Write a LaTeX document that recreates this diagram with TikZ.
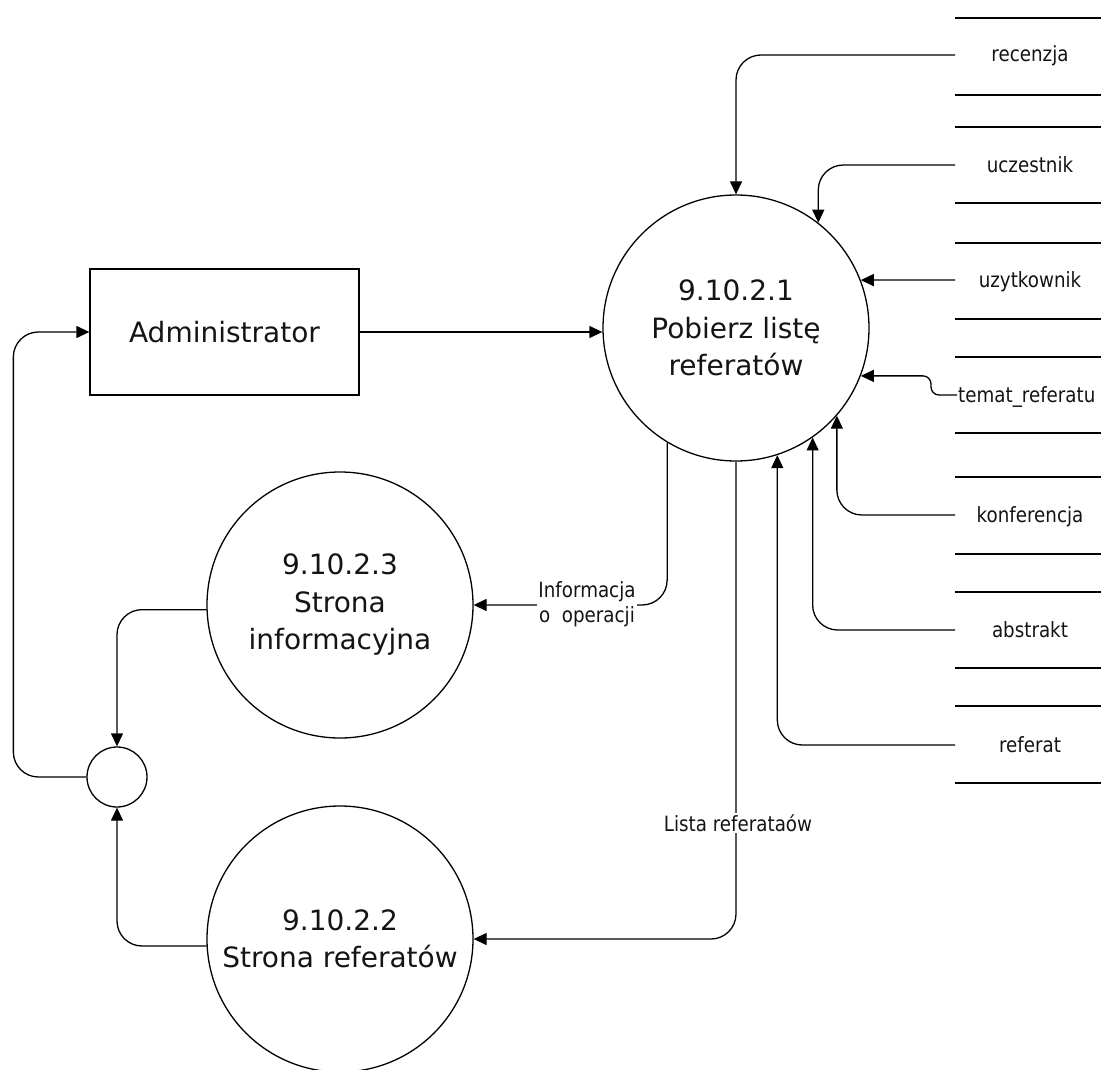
\documentclass[tikz,border=0pt]{standalone}
\usepackage{fontspec}
\setmainfont{DejaVu Sans}
\newfontfamily\smallf[FakeStretch=0.87]{DejaVu Sans}
\usetikzlibrary{arrows.meta}
\begin{document}
\begin{tikzpicture}[x=1pt,y=-1pt,
  every node/.style={text=black!92},
  proc/.style={draw=black, circle, line width=1.3pt, minimum size=266pt, inner sep=0pt, align=center, font=\fontsize{28}{37.5}\selectfont},
  extent/.style={draw=black, rectangle, line width=1.3pt, minimum width=269pt, minimum height=126pt, inner sep=0pt, font=\fontsize{28}{37.5}\selectfont},
  junction/.style={draw=black, circle, line width=1.3pt, minimum size=60pt, inner sep=0pt},
  flow/.style={draw=black, line width=1.3pt, -{Triangle[length=13pt,width=12pt]}, rounded corners=25pt},
  lbl/.style={font=\smallf\fontsize{21}{25}\selectfont, inner sep=1pt},
  storeline/.style={draw=black, line width=1.3pt}]
\useasboundingbox (0,0) rectangle (1101,1070);

% processes
\node[proc] (p1) at (736,328) {9.10.2.1\\Pobierz listę\\referatów};
\node[proc] (p3) at (340,605) {9.10.2.3\\Strona\\informacyjna};
\node[proc] (p2) at (340,939) {9.10.2.2\\Strona referatów};
\node[junction] (j) at (117,777) {};
\node[extent] (adm) at (224.5,332) {Administrator};

% data stores
\foreach \a/\b in {18/95,127/203,243/319,357/433,477/554,592/668,706/783}{
  \draw[storeline] (955,\a) -- (1105,\a);
  \draw[storeline] (955,\b) -- (1105,\b);
}
\node[lbl, anchor=base] (t1) at (1030,62) {recenzja};
\node[lbl, anchor=base] (t2) at (1030,172) {uczestnik};
\node[lbl, anchor=base] (t3) at (1030,287) {uzytkownik};
\node[lbl, anchor=base west] (t4) at (957,402) {temat\_referatu};
\node[lbl, anchor=base] (t5) at (1030,522) {konferencja};
\node[lbl, anchor=base] (t6) at (1030,637) {abstrakt};
\node[lbl, anchor=base] (t7) at (1030,752) {referat};

\coordinate (s1) at (955,55);
\coordinate (s2) at (955,165);
\coordinate (s3) at (955,280);
\coordinate (s4) at (957,395);
\coordinate (s5) at (955,515);
\coordinate (s6) at (955,630);
\coordinate (s7) at (955,745);

\draw[flow] (s1) -| (p1.north);
\draw[flow] (s2) -| (p1.52.5);
\draw[flow] (s3) -- (p1.21.2);
\draw[flow, rounded corners=8pt] (s4) -- ++(-26,0) |- (p1.-21.6);
\draw[flow] (s5) -| (p1.-41.25);
\draw[flow] (s6) -| (p1.-55.7);
\draw[flow] (s7) -| (p1.-72.05);

% main flows
\draw[flow] (adm.east) -- (adm.east -| p1.west);
\draw[flow] (p1.-121.25) |- (p3.east);
\node[lbl, fill=white, align=center] (l1) at (587,604) {Informacja\\o\ \ operacji};
\draw[flow] (p1.south) |- (p2.east);
\node[lbl, fill=white] (l2) at (738,823) {Lista referataów};

\draw[flow] (p3.182.6) -| (j.north);
\draw[flow] (p2.183.4) -| (j.south);
\draw[flow] (j.west) -- ++(-73,0) |- (adm.west);
\end{tikzpicture}
\end{document}
